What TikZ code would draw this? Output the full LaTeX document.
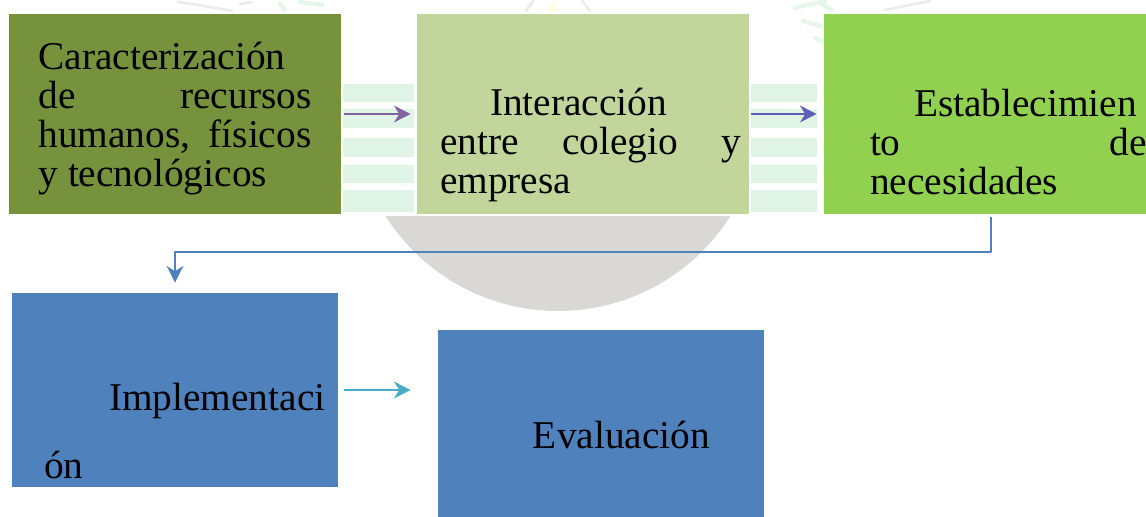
\documentclass[tikz,border=0pt]{standalone}
\usepackage{fontspec}
\setmainfont{Liberation Serif}
\usetikzlibrary{arrows.meta,calc,positioning}
\definecolor{olivebox}{HTML}{76923C}
\definecolor{palebox}{HTML}{C2D69B}
\definecolor{limebox}{HTML}{92D050}
\definecolor{bluebox}{HTML}{4F81BD}
\definecolor{markgreen}{HTML}{E0F5E5}
\definecolor{markgray}{HTML}{D9D8D6}
\tikzset{
  flowbox/.style={rectangle,inner sep=0pt,text=black,font=\fontsize{22.4}{22.2}\selectfont},
  topbox/.style={flowbox,minimum height=4cm},
  lowbox/.style={flowbox,minimum width=6.52cm,minimum height=3.88cm,fill=bluebox},
  flowline/.style={line width=1.1pt,-{Stealth[length=9.5pt,width=9.5pt,inset=3pt]}}
}
\begin{document}
\begin{tikzpicture}[x=0.02cm,y=-0.02cm,line join=round]
\useasboundingbox (0,0) rectangle (1146,517);
% marca de agua
\begin{scope}
\clip (0,216) rectangle (1146,517);
\fill[markgray] (558,107) circle (204);
\end{scope}
\foreach \x/\w in {343/71,751/66}{
\foreach \a/\b in {84/102,109/128,138/157,165/183,190/212}{
\fill[markgreen] (\x,\a) rectangle (\x+\w,\b);}}
\draw[markgray,opacity=.5,line width=1.5pt,line cap=round] (178,2)--(205,6)--(232,11) (240,4)--(252,2) (526,11)--(533,1) (582,1)--(590,11) (885,10)--(905,6)--(930,1);
\draw[markgreen,opacity=.8,line width=2.5pt,line cap=round] (280,4)--(285,10) (300,2)--(322,5) (795,8)--(825,1) (822,4)--(832,10) (803,21)--(820,26) (815,38)--(822,41);
\fill[yellow!12] (548,11)--(553,1)--(558,11)--cycle;
% cajas
\node[topbox,minimum width=6.64cm,fill=olivebox] (B1) at (175,114) {\parbox{5.46cm}{\rule{0pt}{.72cm}Caracterización\\ de\hfill recursos\\ humanos,\hfill físicos\\ y tecnológicos}};
\node[topbox,minimum width=6.64cm,fill=palebox] (B2) at (583,114) {\hspace*{.3cm}\parbox{6.02cm}{\rule{0pt}{1.79cm}\hspace*{1cm}Interacción\\ entre\hfill colegio\hfill y\\ empresa}};
\node[topbox,minimum width=6.68cm,fill=limebox] (B3) at (991,114) {\hspace*{.7cm}\parbox{5.54cm}{\rule{0pt}{1.67cm}\hspace*{.88cm}Establecimien\\ to\hfill de\\ necesidades}};
\node[lowbox] (B4) at (175,390) {\hspace*{.42cm}\parbox{5.66cm}{\rule{0pt}{2.2cm}\hspace*{1.3cm}Implementaci\\[.58cm] ón}};
\node[lowbox] (B5) at (601,427) {\hspace*{.82cm}\rule{0pt}{.88cm}Evaluación};
% flechas
\draw[flowline,color={rgb,255:red,128;green,100;blue,162},shorten <=3*.02cm,shorten >=6*.02cm] (B1)--(B2);
\draw[flowline,color={rgb,255:red,95;green,95;blue,185},shorten <=2*.02cm,shorten >=7*.02cm] (B2)--(B3);
\draw[flowline,color=bluebox,shorten <=3*.02cm,shorten >=10*.02cm] (B3.south)--++(0,38)-|(B4.north);
\draw[flowline,color={rgb,255:red,75;green,172;blue,198},shorten <=6*.02cm,shorten >=27*.02cm] (B4.east)--(B4.east-|B5.west);
\end{tikzpicture}
\end{document}
